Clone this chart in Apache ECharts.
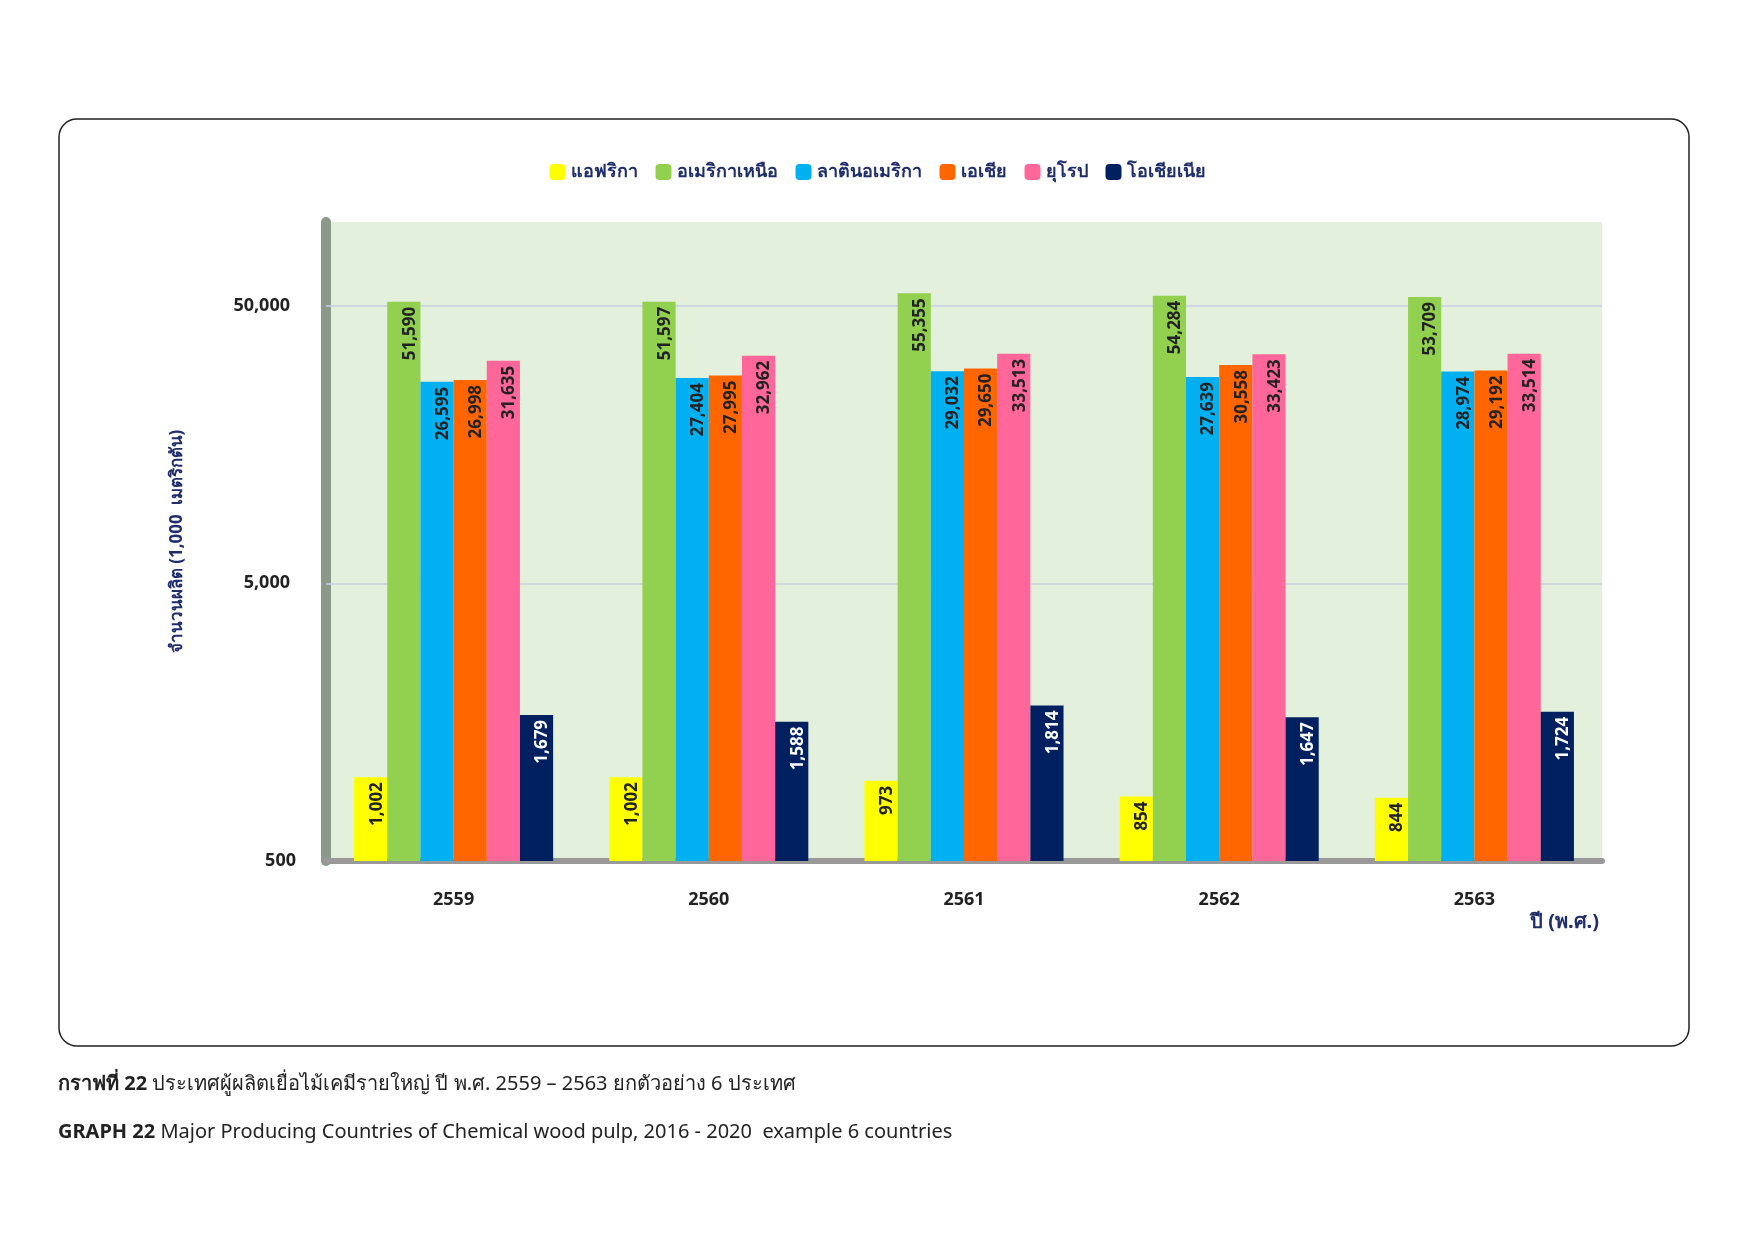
<!DOCTYPE html>
<html><head><meta charset="utf-8">
<script src="https://cdn.jsdelivr.net/npm/echarts@6/dist/echarts.min.js"></script>
<style>html,body{margin:0;padding:0;background:#fff}#c{width:1755px;height:1241px}</style>
</head><body><div id="c"></div>
<script>
const years = ['2559','2560','2561','2562','2563'];
const seriesNames = ['แอฟริกา','อเมริกาเหนือ','ลาตินอเมริกา','เอเชีย','ยุโรป','โอเชียเนีย'];
const africa = [1002,1002,973,854,844];
const northAmerica = [51590,51597,55355,54284,53709];
const latinAmerica = [26595,27404,29032,27639,28974];
const asia = [26998,27995,29650,30558,29192];
const europe = [31635,32962,33513,33423,33514];
const oceania = [1679,1588,1814,1647,1724];
const yTicks = [5000,50000];
const colors = ['#ffff00','#92d050','#00b0f0','#ff6600','#ff6699','#002060'];
const allData = [africa,northAmerica,latinAmerica,asia,europe,oceania];
const font = '"Noto Sans", "DejaVu Sans", sans-serif';
const chart = echarts.init(document.getElementById('c'));
chart.setOption({
  animation:false,
  textStyle:{fontFamily:font},
  graphic:[
    {type:'rect',shape:{x:59,y:119,width:1630,height:927,r:18},style:{fill:'none',stroke:'#222',lineWidth:1.5}},
    {type:'text',left:58,top:1074,style:{text:'{b|กราฟที่ 22} ประเทศผู้ผลิตเยื่อไม้เคมีรายใหญ่ ปี พ.ศ. 2559 – 2563 ยกตัวอย่าง 6 ประเทศ',font:'20px '+font,fill:'#222',rich:{b:{fontWeight:'bold',fontSize:20,fontFamily:font}}}},
    {type:'text',left:58,top:1122,style:{text:'{b|GRAPH 22} Major Producing Countries of Chemical wood pulp, 2016 - 2020  example 6 countries',font:'20px '+font,fill:'#222',rich:{b:{fontWeight:'bold',fontSize:20,fontFamily:font}}}},
    {type:'text',left:1530,top:912,style:{text:'ปี (พ.ศ.)',font:'bold 20px '+font,fill:'#1f2d6b'}}
  ],
  legend:{top:158,left:'center',itemWidth:16,itemHeight:16,itemGap:18,textStyle:{fontSize:18,fontWeight:'bold',color:'#1f2d6b'},data:seriesNames},
  grid:{left:326,right:153,top:222,bottom:380,backgroundColor:'#e3f1dc',show:true,borderWidth:0},
  xAxis:{type:'category',data:years,axisTick:{show:false},axisLine:{lineStyle:{color:'#999',width:6}},
    axisLabel:{fontSize:18,fontWeight:'bold',color:'#222',margin:30}},
  yAxis:{type:'log',logBase:10,min:500,max:100000,
    name:'จำนวนผลิต (1,000  เมตริกตัน)',nameLocation:'middle',nameGap:140,nameRotate:90,
    nameTextStyle:{fontSize:17,fontWeight:'bold',color:'#1f2d6b'},
    axisLine:{show:true,lineStyle:{color:'#8a9a8a',width:10}},
    splitLine:{show:false},
    axisLabel:{fontSize:18,fontWeight:'bold',color:'#222',margin:30,
      formatter:v=>(Math.round(v)===500?'500':'')}},
  series: seriesNames.map((n,i)=>({
    name:n,type:'bar',data:allData[i],barGap:'0%',barCategoryGap:'22%',
    itemStyle:{color:colors[i]},
    label:{show:true,position:'insideTop',rotate:90,align:'right',verticalAlign:'middle',offset:[0,6],
      formatter:p=>p.value.toLocaleString('en-US'),fontSize:17,fontWeight:'bold',
      color:i===5?'#fff':'#222'},
    markLine: i===0 ? {silent:true,symbol:'none',z:1,
      lineStyle:{color:'#c8cce0',width:1.5,type:'solid'},
      label:{position:'start',distance:36,fontSize:18,fontWeight:'bold',color:'#222',
        formatter:p=>p.value.toLocaleString('en-US')},
      data:yTicks.map(v=>({yAxis:v}))} : undefined
  }))
});
</script></body></html>
